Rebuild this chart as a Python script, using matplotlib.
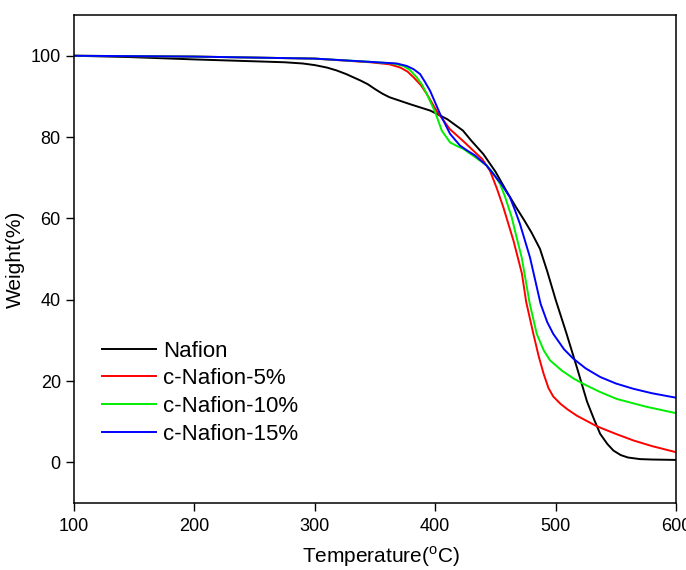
import numpy as np
import matplotlib
matplotlib.use("Agg")
import matplotlib.pyplot as plt

plt.rcParams['font.family'] = ['Liberation Sans', 'DejaVu Sans']
plt.rcParams['mathtext.fontset'] = 'custom'
plt.rcParams['mathtext.rm'] = 'Liberation Sans'

# TGA curves (temperature in C, weight in %)
t_nafion = [100, 144, 200, 254, 275, 290, 300, 310, 318, 326, 338, 344, 350, 356, 362, 370, 379, 396,
            410, 423, 430, 440, 450, 459, 467, 474, 480, 487, 493, 500, 509, 518, 526, 532, 537,
            543, 548, 554, 560, 570, 580, 600]
w_nafion = [100, 99.7, 99.1, 98.6, 98.4, 98.1, 97.7, 97.1, 96.4, 95.5, 93.9, 93.0, 91.8, 90.7, 89.8, 89.0, 88.1, 86.5,
            84.4, 81.6, 79.1, 75.8, 71.5, 66.8, 62.8, 59.5, 56.5, 52.5, 47.0, 40.0, 31.7, 23.0, 15.0, 10.5, 7.0,
            4.5, 2.9, 1.8, 1.2, 0.8, 0.7, 0.6]

t_5 = [100, 200, 300, 346, 362, 371, 377, 382, 388, 393, 401, 412, 424, 439, 445.5, 451, 456.6,
       465, 472, 475.5, 481.5, 486, 490, 494, 498, 504, 510, 517.5, 534, 550, 564.5, 580, 600]
w_5 = [100, 99.8, 99.3, 98.4, 97.9, 97.1, 96.1, 94.7, 92.8, 90.6, 86.5, 82.0, 78.8, 74.6, 71.7, 67.5, 62.7,
       54.5, 46.4, 39.5, 31.6, 26.0, 21.8, 18.3, 16.2, 14.4, 13.0, 11.5, 8.9, 7.0, 5.4, 4.0, 2.5]

t_10 = [100, 200, 300, 346, 365, 373.5, 379, 384.6, 389, 393, 400, 405.4, 412.3, 418, 423.3, 433,
        442.7, 448, 453.8, 458, 463.5, 467, 471.8, 478.5, 484.3, 490, 495.3, 505, 515, 523, 537,
        550.7, 575, 600]
w_10 = [100, 99.8, 99.3, 98.5, 98.1, 97.5, 96.5, 94.7, 92.9, 90.6, 86.1, 81.6, 78.7, 77.8, 77.1, 75.1,
        73.0, 71.2, 68.5, 65.3, 60.3, 56.0, 50.4, 39.0, 31.6, 27.6, 25.1, 22.6, 20.6, 19.3, 17.3,
        15.6, 13.7, 12.1]

t_15 = [100, 200, 300, 346, 368, 376.3, 382, 387.4, 391, 395.7, 404, 412.3, 420.6, 427, 433,
        442.7, 448.3, 455, 462, 466, 470.4, 478.7, 487.5, 493, 498, 507, 514.7, 525, 537,
        550, 564.5, 580, 600]
w_15 = [100, 99.8, 99.3, 98.5, 98.1, 97.5, 96.7, 95.5, 93.8, 91.4, 85.7, 80.8, 77.9, 76.6, 75.5,
        73.0, 70.9, 68.4, 65.2, 62.2, 58.6, 50.4, 39.0, 34.5, 31.6, 27.8, 25.5, 23.1, 21.0,
        19.4, 18.1, 17.0, 15.9]

labels = ['Nafion', 'c-Nafion-5%', 'c-Nafion-10%', 'c-Nafion-15%']
colors = ['black', '#ff0000', '#00ee00', '#0000ff']

fig = plt.figure(figsize=(6.86, 5.70), dpi=100)
ax = fig.add_axes([0.1079, 0.1175, 0.8776, 0.856])

series = [(t_nafion, w_nafion), (t_5, w_5), (t_10, w_10), (t_15, w_15)]
for (t, w), lab, c in zip(series, labels, colors):
    ax.plot(t, w, color=c, lw=1.4, label=lab)

ax.set_xlim(100, 600)
ax.set_ylim(-10, 110)
ax.set_xticks([100, 200, 300, 400, 500, 600])
ax.set_yticks([0, 20, 40, 60, 80, 100])
ax.tick_params(direction='out', length=6, width=1, labelsize=13, top=False, right=False)
ax.tick_params(axis='x', pad=5)
for s in ax.spines.values():
    s.set_linewidth(1.1)

ax.set_xlabel(r'Temperature($^\mathrm{o}$C)', fontsize=15)
ax.xaxis.set_label_coords(0.51, -0.085)
ax.set_ylabel('Weight(%)', fontsize=15)
ax.yaxis.set_label_coords(-0.081, 0.5)

ax.legend(loc='upper left', bbox_to_anchor=(0.0465, 0.333), frameon=False, fontsize=16,
          handlelength=2.43, handletextpad=0.32, labelspacing=0.3, borderaxespad=0.0,
          borderpad=0.0)

fig.savefig('out.png', dpi=100)
